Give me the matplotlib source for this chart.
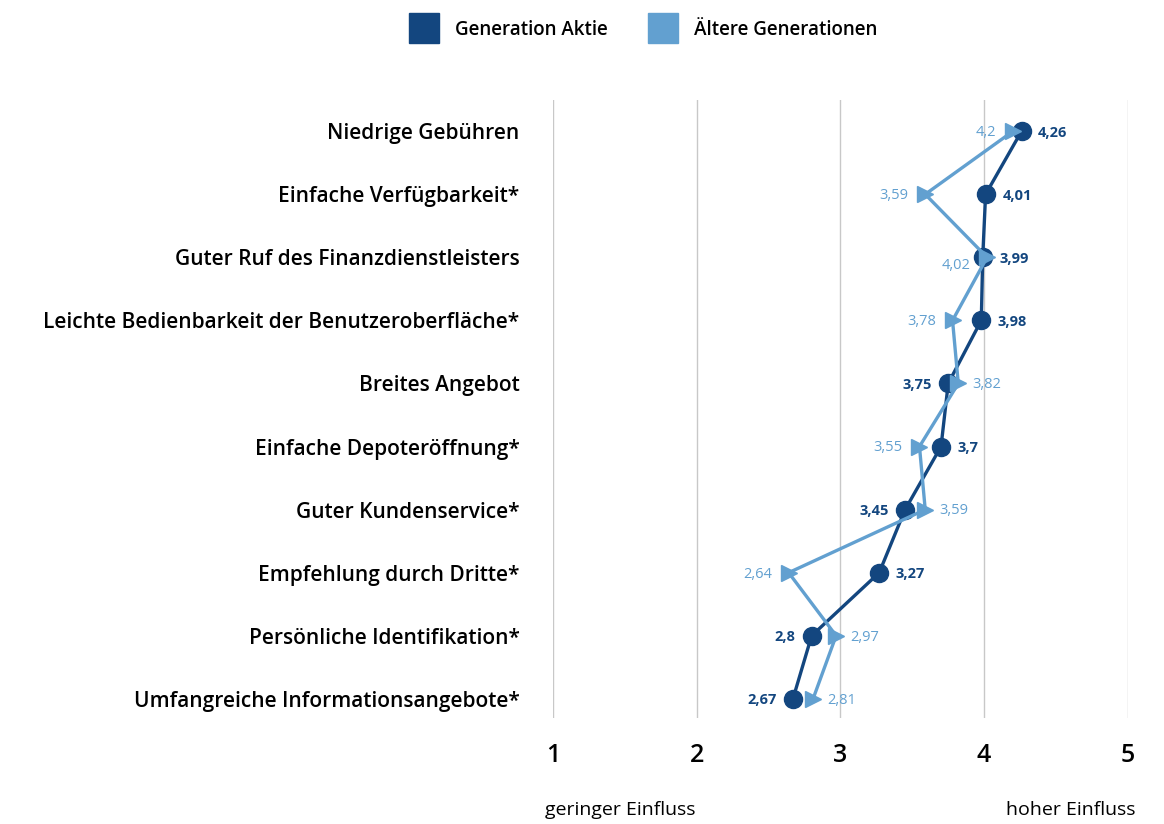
import matplotlib
matplotlib.use("Agg")
import matplotlib.pyplot as plt
from matplotlib.lines import Line2D

# Kategorien von oben nach unten
categories = [
    "Niedrige Gebühren",
    "Einfache Verfügbarkeit*",
    "Guter Ruf des Finanzdienstleisters",
    "Leichte Bedienbarkeit der Benutzeroberfläche*",
    "Breites Angebot",
    "Einfache Depoteröffnung*",
    "Guter Kundenservice*",
    "Empfehlung durch Dritte*",
    "Persönliche Identifikation*",
    "Umfangreiche Informationsangebote*",
]
gen_aktie = [4.26, 4.01, 3.99, 3.98, 3.75, 3.7, 3.45, 3.27, 2.8, 2.67]
aeltere = [4.2, 3.59, 4.02, 3.78, 3.82, 3.55, 3.59, 2.64, 2.97, 2.81]
x_ticks = [1, 2, 3, 4, 5]
series_names = ["Generation Aktie", "Ältere Generationen"]

dark = "#13467f"
light = "#62a0d0"
plt.rcParams["font.family"] = ["Open Sans", "DejaVu Sans"]

fig = plt.figure(figsize=(11.64, 8.24), dpi=100)
ax = fig.add_axes([0.475, 0.129, 0.494, 0.750])

rows = list(range(len(categories)))

ax.plot(gen_aktie, rows, color=dark, lw=2.4, marker="o", ms=13, zorder=3)
ax.plot(aeltere, rows, color=light, lw=2.4, marker=">", ms=12, zorder=4)

# Beschriftungen: Seite links/rechts je Punkt
dark_side = ["r", "r", "r", "r", "l", "r", "l", "r", "l", "l"]
light_side = ["l", "l", "l", "l", "r", "l", "r", "l", "r", "r"]


def fmt(v):
    return ("%g" % v).replace(".", ",")


for i, v in enumerate(gen_aktie):
    dx = 12 if dark_side[i] == "r" else -12
    ax.annotate(fmt(v), (v, i), xytext=(dx, -1), textcoords="offset points",
                ha="left" if dx > 0 else "right", va="center",
                fontsize=10.5, fontweight="bold", color=dark, zorder=5)

for i, v in enumerate(aeltere):
    dx = 10 if light_side[i] == "r" else -12
    dy = -6 if i == 2 else -1
    ax.annotate(fmt(v), (v, i), xytext=(dx, dy), textcoords="offset points",
                ha="left" if dx > 0 else "right", va="center",
                fontsize=10.5, color=light, zorder=5)

ax.set_xlim(1, 5)
ax.set_ylim(9.3, -0.5)
ax.set_xticks(x_ticks)
ax.set_xticklabels([str(t) for t in x_ticks], fontsize=18, fontweight="semibold")
ax.set_yticks(rows)
ax.set_yticklabels(categories, fontsize=15, fontweight="semibold")
ax.tick_params(axis="both", length=0)
ax.tick_params(axis="x", pad=18)
ax.tick_params(axis="y", pad=24)
ax.grid(axis="x", color="#c8c8c8", lw=1)
ax.set_axisbelow(True)
for s in ax.spines.values():
    s.set_visible(False)

fig.text(545 / 1164, 1 - 810 / 824, "geringer Einfluss", fontsize=14,
         ha="left", va="center")
fig.text(1135 / 1164, 1 - 810 / 824, "hoher Einfluss", fontsize=14,
         ha="right", va="center")

handles = [Line2D([], [], ls="", marker="s", ms=22, color=dark),
           Line2D([], [], ls="", marker="s", ms=22, color=light)]
fig.legend(handles, series_names, loc="center", bbox_to_anchor=(0.553, 0.964),
           ncol=2, frameon=False,
           prop={"size": 13.5, "weight": "semibold"}, handletextpad=0.9,
           columnspacing=2.2, handlelength=1.5)

fig.savefig("out.png", dpi=100)
